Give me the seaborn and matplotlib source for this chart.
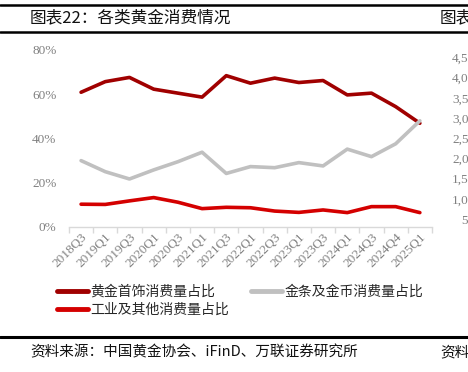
import pandas as pd
import numpy as np
import matplotlib.pyplot as plt
import seaborn as sns
from matplotlib.lines import Line2D

# 数据（从图中读取的估计值，%）
quarters = ['2018Q3', '2019Q1', '2019Q3', '2020Q1', '2020Q3', '2021Q1', '2021Q3', '2022Q1',
            '2022Q3', '2023Q1', '2023Q3', '2024Q1', '2024Q3', '2024Q4', '2025Q1']
jewelry = [60.9, 65.7, 67.6, 62.3, 60.5, 58.7, 68.4, 65.0, 67.3, 65.3, 66.2, 59.7, 60.5, 54.4, 46.9]
bars_coins = [30.0, 25.0, 21.7, 25.8, 29.5, 33.8, 24.2, 27.3, 26.8, 29.1, 27.6, 35.2, 31.8, 37.6, 48.0]
industrial = [10.3, 10.2, 11.8, 13.3, 11.2, 8.3, 8.9, 8.7, 7.2, 6.6, 7.7, 6.5, 9.2, 9.2, 6.5]

series_names = ['黄金首饰消费量占比', '金条及金币消费量占比', '工业及其他消费量占比']
colors = ['#A00000', '#C0C0C0', '#D40000']

# 右侧被截断的相邻图表的坐标标签
right_labels = ['4,500', '4,000', '3,500', '3,000', '2,500', '2,000', '1,500', '1,000', '500']

df = pd.DataFrame({'quarter': quarters * 3,
                   'x': list(range(len(quarters))) * 3,
                   'value': jewelry + bars_coins + industrial,
                   'series': [series_names[0]] * 15 + [series_names[1]] * 15 + [series_names[2]] * 15})

sns.set_theme(style='white')
plt.rcParams['font.family'] = ['Noto Sans CJK SC', 'DejaVu Sans']
serif = ['Liberation Serif', 'DejaVu Serif']

fig = plt.figure(figsize=(4.68, 3.72), dpi=100)
ax = fig.add_axes([0.1474, 0.3898, 0.7756, 0.4758])

sns.lineplot(data=df, x='x', y='value', hue='series', hue_order=series_names,
             palette=colors, linewidth=2.6, ax=ax, legend=False)

ax.set_xlim(-0.5, len(quarters) - 0.5)
ax.set_ylim(0, 80)
ax.set_yticks([0, 20, 40, 60, 80])
ax.set_yticklabels(['0%', '20%', '40%', '60%', '80%'], color='#808080', fontsize=9.5, family=serif)
ax.set_xticks(range(len(quarters)))
ax.set_xticklabels(quarters, rotation=45, ha='right', rotation_mode='anchor',
                   color='#808080', fontsize=9.5, family=serif)
ax.tick_params(axis='x', which='major', length=0, pad=3)
ax.tick_params(axis='y', length=0, pad=9)
ax.set_xticks(np.arange(-0.5, len(quarters), 1), minor=True)
ax.tick_params(axis='x', which='minor', length=4, color='#D9D9D9', direction='out', bottom=True)
ax.set_xlabel('')
ax.set_ylabel('')
for s in ['top', 'right', 'left']:
    ax.spines[s].set_visible(False)
ax.spines['bottom'].set_color('#D9D9D9')
ax.spines['bottom'].set_linewidth(1)

# 图例：第一行两项，第二行一项
handles = [Line2D([0], [0], color=c, lw=3.5) for c in colors]
order = [0, 2, 1]
fig.legend([handles[i] for i in order], [series_names[i] for i in order],
           ncol=2, loc='upper left', bbox_to_anchor=(0.11, 0.25), frameon=False,
           fontsize=10, handlelength=2.2, handletextpad=0.2, columnspacing=1.6,
           labelspacing=0.3, borderaxespad=0)

# 标题、分隔线、资料来源
fig.text(0.064, 0.952, '图表22：各类黄金消费情况', fontsize=12, va='center', ha='left', color='#111111')
fig.text(0.94, 0.952, '图表', fontsize=12, va='center', ha='left', color='#111111')
fig.add_artist(Line2D([0, 1], [1 - 4.5 / 372] * 2, color='black', lw=1.8, transform=fig.transFigure))
fig.add_artist(Line2D([0, 1], [1 - 32 / 372] * 2, color='black', lw=1.8, transform=fig.transFigure))
fig.add_artist(Line2D([0, 1], [1 - 337 / 372] * 2, color='black', lw=2.2, transform=fig.transFigure))
fig.text(0.064, 1 - 352 / 372, '资料来源：中国黄金协会、iFinD、万联证券研究所', fontsize=10.5,
         va='center', ha='left', color='#111111')
fig.text(0.94, 1 - 352 / 372, '资料', fontsize=10.5, va='center', ha='left', color='#111111')

for i, lab in enumerate(right_labels):
    fig.text(0.966 if i < 8 else 0.985, 1 - (59 + 20.2 * i) / 372, lab, fontsize=9.5,
             va='center', ha='left', color='#808080', family=serif)

fig.savefig('out.png', dpi=100)
